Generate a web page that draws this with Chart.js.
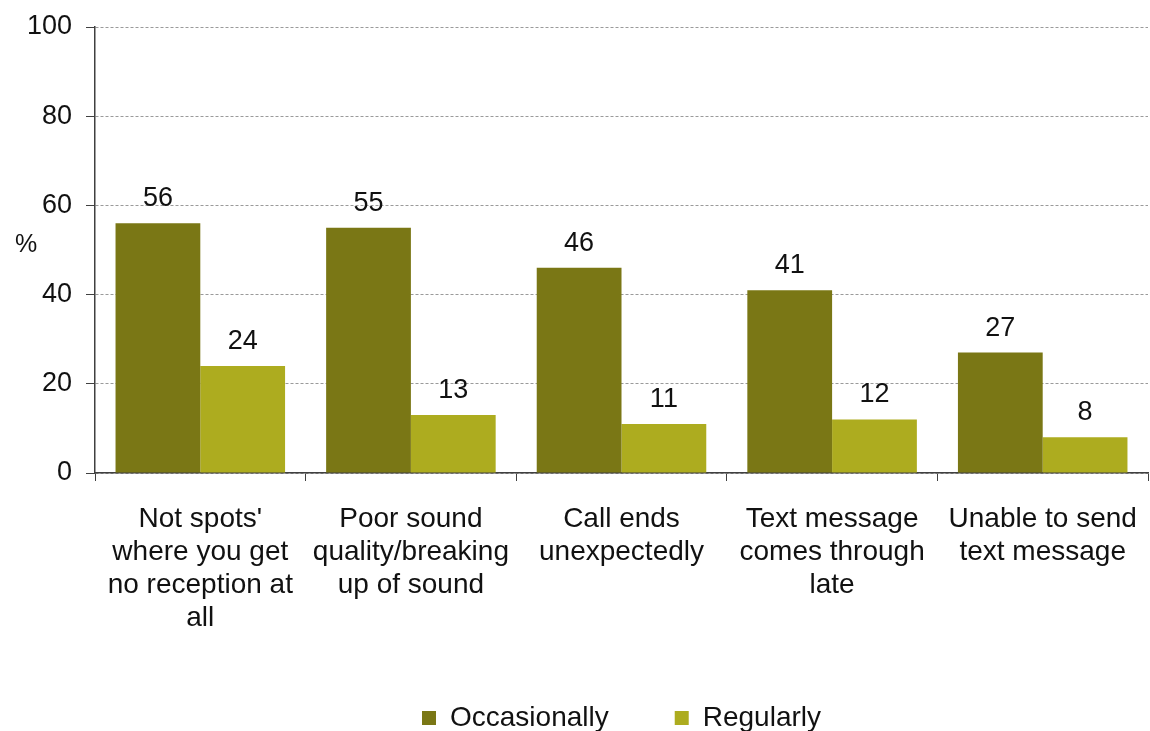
<!DOCTYPE html>
<html>
<head>
<meta charset="utf-8">
<script src="https://cdn.jsdelivr.net/npm/chart.js@4"></script>
<style>
  html, body { margin: 0; padding: 0; background: #fff; }
  #wrap { width: 1150px; height: 731px; position: relative; }
</style>
</head>
<body>
<div id="wrap"><canvas id="chart"></canvas></div>
<script>
// problem categories (multi-line labels)
const categories = [
    ["Not spots'", "where you get", "no reception at", "all"],
    ["Poor sound", "quality/breaking", "up of sound"],
    ["Call ends", "unexpectedly"],
    ["Text message", "comes through", "late"],
    ["Unable to send", "text message"]
];
const occasionally = [56, 55, 46, 41, 27];
const regularly = [24, 13, 11, 12, 8];
const yTicks = [0, 20, 40, 60, 80, 100];

const FONT = "'Liberation Sans', Arial, sans-serif";
const LEGEND_GAP = 66;

// value labels above each bar
const valueLabels = {
    id: 'valueLabels',
    afterDatasetsDraw(chart) {
        const ctx = chart.ctx;
        ctx.save();
        ctx.font = '27px ' + FONT;
        ctx.fillStyle = '#111';
        ctx.textAlign = 'center';
        ctx.textBaseline = 'alphabetic';
        chart.data.datasets.forEach((ds, i) => {
            chart.getDatasetMeta(i).data.forEach((bar, j) => {
                ctx.fillText(String(ds.data[j]), bar.x, bar.y - 17);
            });
        });
        ctx.restore();
    }
};

// horizontal "%" unit next to the y axis
const unitLabel = {
    id: 'unitLabel',
    afterDraw(chart) {
        const ctx = chart.ctx;
        const y = chart.scales.y;
        ctx.save();
        ctx.font = '25px ' + FONT;
        ctx.fillStyle = '#111';
        ctx.textAlign = 'center';
        ctx.textBaseline = 'middle';
        ctx.fillText('%', 26, y.getPixelForValue(51));
        ctx.restore();
    }
};

new Chart(document.getElementById('chart'), {
    type: 'bar',
    data: {
        labels: categories,
        datasets: [
            {
                label: 'Occasionally',
                data: occasionally,
                backgroundColor: '#7a7715'
            },
            {
                label: 'Regularly',
                data: regularly,
                backgroundColor: '#adac1f'
            }
        ]
    },
    options: {
        responsive: true,
        maintainAspectRatio: false,
        animation: false,
        devicePixelRatio: 1,
        categoryPercentage: 0.805,
        barPercentage: 1.0,
        layout: { padding: { top: 27, right: 2, left: 0, bottom: -11 } },
        plugins: {
            tooltip: { enabled: false },
            legend: {
                position: 'bottom',
                fullSize: false,
                labels: {
                    font: { family: FONT, size: 28 },
                    color: '#111',
                    boxWidth: 14,
                    boxHeight: 14,
                    padding: LEGEND_GAP
                }
            }
        },
        scales: {
            x: {
                offset: true,
                grid: {
                    offset: true,
                    drawOnChartArea: false,
                    drawTicks: true,
                    tickLength: 8,
                    color: '#404040'
                },
                border: { display: true, color: '#404040', width: 1.5 },
                ticks: {
                    font: { family: FONT, size: 28, lineHeight: 1.18 },
                    color: '#111',
                    padding: 22,
                    maxRotation: 0,
                    autoSkip: false
                },
                afterFit(scale) {
                    scale.height = 231 - LEGEND_GAP;
                    scale.paddingLeft = 0;
                    scale.paddingRight = 0;
                }
            },
            y: {
                min: 0,
                max: 100,
                afterBuildTicks(scale) {
                    scale.ticks = yTicks.map(v => ({ value: v }));
                },
                grid: {
                    color: '#9a9a9a',
                    lineWidth: 1,
                    tickLength: 9,
                    tickColor: '#404040',
                    tickBorderDash: []
                },
                border: { display: true, color: '#404040', width: 1.5, dash: [3, 2] },
                ticks: {
                    font: { family: FONT, size: 27 },
                    color: '#111',
                    padding: 14
                },
                afterFit(scale) {
                    scale.width = 95;
                    scale.paddingTop = 0;
                    scale.paddingBottom = 0;
                }
            }
        }
    },
    plugins: [valueLabels, unitLabel]
});
</script>
</body>
</html>
